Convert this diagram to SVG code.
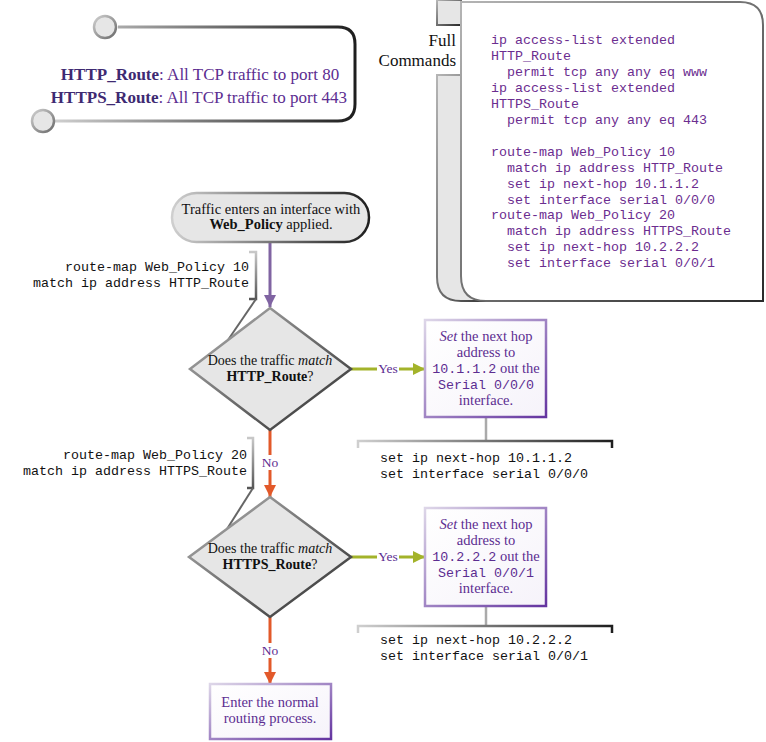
<svg xmlns="http://www.w3.org/2000/svg" width="766" height="742" viewBox="0 0 766 742">
<style>
.serif{font-family:"Liberation Serif","Times New Roman",serif;}
.mono{font-family:"Liberation Mono","Courier New",monospace;font-size:13.33px;}
.pur{fill:#5c2d91;}
.code{fill:#6b2d8f;}
.blk{fill:#111;}
.nodeTxt{font-size:14.5px;}
.decTxt{font-size:14px;}
.lbl{font-size:13.5px;fill:#5c2d91;}
</style>
<defs>
<linearGradient id="gHoriz" x1="0" y1="0" x2="1" y2="0">
<stop offset="0" stop-color="#cfcfcf"/><stop offset="1" stop-color="#1e1e1e"/>
</linearGradient>
<linearGradient id="gDiag" x1="0" y1="0" x2="1" y2="1">
<stop offset="0" stop-color="#b5b5b5"/><stop offset="1" stop-color="#2a2a2a"/>
</linearGradient>
<linearGradient id="gCircle" x1="0" y1="0" x2="1" y2="1">
<stop offset="0" stop-color="#d0d0d0"/><stop offset="1" stop-color="#6a6a6a"/>
</linearGradient>
<linearGradient id="gBox" x1="0" y1="0" x2="1" y2="1">
<stop offset="0" stop-color="#ddd6e8"/><stop offset="1" stop-color="#6434a0"/>
</linearGradient>
<linearGradient id="gBoxFill" x1="0" y1="0" x2="1" y2="1">
<stop offset="0" stop-color="#ffffff"/><stop offset="1" stop-color="#f6f3fa"/>
</linearGradient>
<linearGradient id="gVert" x1="0" y1="0" x2="0" y2="1">
<stop offset="0" stop-color="#c8c8c8"/><stop offset="1" stop-color="#555"/>
</linearGradient>
<marker id="aPur" markerUnits="userSpaceOnUse" markerWidth="14" markerHeight="14" refX="12" refY="6" orient="auto">
<path d="M0,0 L12,6 L0,12 Z" fill="#8064a2"/>
</marker>
<marker id="aGrn" markerUnits="userSpaceOnUse" markerWidth="14" markerHeight="14" refX="12" refY="6" orient="auto">
<path d="M0,0 L12,6 L0,12 Z" fill="#a3b32a"/>
</marker>
<marker id="aOrg" markerUnits="userSpaceOnUse" markerWidth="14" markerHeight="14" refX="12" refY="6" orient="auto">
<path d="M0,0 L12,6 L0,12 Z" fill="#e2592a"/>
</marker>
</defs>
<rect width="766" height="742" fill="#fff"/>

<!-- Definition callout top-left -->
<g id="acl-summary">
<path d="M118,27 H338 Q355,27 355,44 V104 Q355,121 338,121 H55" fill="none" stroke="url(#gHoriz)" stroke-width="3"/>
<circle cx="105" cy="27" r="11" fill="#e6e6e6" stroke="url(#gCircle)" stroke-width="2.5"/>
<circle cx="43" cy="121" r="11" fill="#e6e6e6" stroke="url(#gCircle)" stroke-width="2.5"/>
<text class="serif" x="200" y="80" text-anchor="middle" font-size="17"><tspan font-weight="bold" fill="#3e2a72">HTTP_Route</tspan><tspan fill="#5c2d91">: All TCP traffic to port 80</tspan></text>
<text class="serif" x="199" y="103" text-anchor="middle" font-size="17"><tspan font-weight="bold" fill="#3e2a72">HTTPS_Route</tspan><tspan fill="#5c2d91">: All TCP traffic to port 443</tspan></text>
</g>

<!-- Full commands panel -->
<g id="full-commands">
<rect x="437" y="0" width="24" height="25" fill="#e6e6e6" stroke="url(#gDiag)" stroke-width="2"/>
<path d="M461,75 H437 V277 Q437,301 461,301 H495" fill="#e6e6e6" stroke="url(#gDiag)" stroke-width="2"/>
<path d="M461,2 H740 Q763,2 763,25 V301 H486 Q461,301 461,276 Z" fill="#fff" stroke="url(#gDiag)" stroke-width="2"/>
<text class="serif" x="456" y="46" text-anchor="end" font-size="17" fill="#111">Full</text>
<text class="serif" x="456" y="66" text-anchor="end" font-size="17" fill="#111">Commands</text>
<g class="mono code">
<text x="491" y="44">ip access-list extended</text>
<text x="491" y="60">HTTP_Route</text>
<text x="507" y="76">permit tcp any any eq www</text>
<text x="491" y="92">ip access-list extended</text>
<text x="491" y="108">HTTPS_Route</text>
<text x="507" y="124">permit tcp any any eq 443</text>
<text x="491" y="156">route-map Web_Policy 10</text>
<text x="507" y="172">match ip address HTTP_Route</text>
<text x="507" y="188">set ip next-hop 10.1.1.2</text>
<text x="507" y="204">set interface serial 0/0/0</text>
<text x="491" y="219">route-map Web_Policy 20</text>
<text x="507" y="235">match ip address HTTPS_Route</text>
<text x="507" y="251">set ip next-hop 10.2.2.2</text>
<text x="507" y="267">set interface serial 0/0/1</text>
</g>
</g>

<!-- Connectors -->
<g id="connectors" fill="none">
<line x1="270" y1="243" x2="270" y2="307" stroke="#8064a2" stroke-width="3" marker-end="url(#aPur)"/>
<line x1="351" y1="369" x2="425" y2="369" stroke="#a3b32a" stroke-width="3" marker-end="url(#aGrn)"/>
<line x1="270" y1="430" x2="270" y2="497" stroke="#e2592a" stroke-width="3" marker-end="url(#aOrg)"/>
<line x1="351" y1="557" x2="425" y2="557" stroke="#a3b32a" stroke-width="3" marker-end="url(#aGrn)"/>
<line x1="270" y1="617" x2="270" y2="684" stroke="#e2592a" stroke-width="3" marker-end="url(#aOrg)"/>
<rect x="377" y="361" width="22" height="15" fill="#fff"/>
<text class="serif lbl" x="388" y="373" text-anchor="middle">Yes</text>
<rect x="377" y="549" width="22" height="15" fill="#fff"/>
<text class="serif lbl" x="388" y="561" text-anchor="middle">Yes</text>
<rect x="260" y="455" width="20" height="15" fill="#fff"/>
<text class="serif lbl" x="270" y="467" text-anchor="middle">No</text>
<rect x="260" y="643" width="20" height="15" fill="#fff"/>
<text class="serif lbl" x="270" y="655" text-anchor="middle">No</text>
<!-- annotation leaders -->
<path d="M249,252 H256 V299 H249" stroke="url(#gVert)" stroke-width="2.5"/>
<line x1="256" y1="299" x2="228" y2="340" stroke="#666" stroke-width="2"/>
<path d="M247,438 H253 V488 H247" stroke="url(#gVert)" stroke-width="2.5"/>
<line x1="253" y1="488" x2="227" y2="529" stroke="#666" stroke-width="2"/>
<line x1="486" y1="417" x2="486" y2="441" stroke="#aaa" stroke-width="2.5"/>
<path d="M358,448 V441 H612 V448" stroke="url(#gHoriz)" stroke-width="2.5"/>
<line x1="486" y1="606" x2="486" y2="626" stroke="#aaa" stroke-width="2.5"/>
<path d="M358,633 V626 H612 V633" stroke="url(#gHoriz)" stroke-width="2.5"/>
</g>

<!-- Start -->
<g id="start">
<rect x="172" y="193" width="197" height="49" rx="24.5" fill="#e6e6e6" stroke="url(#gHoriz)" stroke-width="2.5"/>
<text class="serif nodeTxt blk" x="271" y="214" text-anchor="middle">Traffic enters an interface with</text>
<text class="serif nodeTxt blk" x="271" y="229" text-anchor="middle"><tspan font-weight="bold">Web_Policy</tspan> applied.</text>
</g>

<!-- Annotation 1 -->
<g id="note-rm10" class="mono blk">
<text x="249" y="271" text-anchor="end">route-map Web_Policy 10</text>
<text x="249" y="287" text-anchor="end">match ip address HTTP_Route</text>
</g>

<!-- Decision 1 -->
<g id="decision-http">
<polygon points="270,308 351,369 270,430 190,369" fill="#e6e6e6" stroke="url(#gDiag)" stroke-width="2.5"/>
<text class="serif decTxt blk" x="270" y="365" text-anchor="middle">Does the traffic <tspan font-style="italic">match</tspan></text>
<text class="serif decTxt blk" x="270" y="381" text-anchor="middle" font-weight="bold">HTTP_Route<tspan font-weight="normal">?</tspan></text>
</g>

<!-- Action 1 -->
<g id="set-hop-1">
<rect x="425" y="320" width="121" height="97" fill="url(#gBoxFill)" stroke="url(#gBox)" stroke-width="2.5"/>
<text class="serif nodeTxt pur" x="486" y="341" text-anchor="middle"><tspan font-style="italic">Set</tspan> the next hop</text>
<text class="serif nodeTxt pur" x="486" y="357" text-anchor="middle">address to</text>
<text class="serif nodeTxt pur" x="486" y="373" text-anchor="middle"><tspan class="mono" font-size="13">10.1.1.2</tspan> out the</text>
<text class="mono pur" x="486" y="389" text-anchor="middle" font-size="13">Serial 0/0/0</text>
<text class="serif nodeTxt pur" x="486" y="405" text-anchor="middle">interface.</text>
</g>
<g id="code-1" class="mono blk">
<text x="380" y="462">set ip next-hop 10.1.1.2</text>
<text x="380" y="478">set interface serial 0/0/0</text>
</g>

<!-- Annotation 2 -->
<g id="note-rm20" class="mono blk">
<text x="247" y="459" text-anchor="end">route-map Web_Policy 20</text>
<text x="247" y="475" text-anchor="end">match ip address HTTPS_Route</text>
</g>

<!-- Decision 2 -->
<g id="decision-https">
<polygon points="270,497 351,557 270,617 189,557" fill="#e6e6e6" stroke="url(#gDiag)" stroke-width="2.5"/>
<text class="serif decTxt blk" x="270" y="553" text-anchor="middle">Does the traffic <tspan font-style="italic">match</tspan></text>
<text class="serif decTxt blk" x="270" y="569" text-anchor="middle" font-weight="bold">HTTPS_Route<tspan font-weight="normal">?</tspan></text>
</g>

<!-- Action 2 -->
<g id="set-hop-2">
<rect x="425" y="508" width="121" height="98" fill="url(#gBoxFill)" stroke="url(#gBox)" stroke-width="2.5"/>
<text class="serif nodeTxt pur" x="486" y="529" text-anchor="middle"><tspan font-style="italic">Set</tspan> the next hop</text>
<text class="serif nodeTxt pur" x="486" y="545" text-anchor="middle">address to</text>
<text class="serif nodeTxt pur" x="486" y="561" text-anchor="middle"><tspan class="mono" font-size="13">10.2.2.2</tspan> out the</text>
<text class="mono pur" x="486" y="577" text-anchor="middle" font-size="13">Serial 0/0/1</text>
<text class="serif nodeTxt pur" x="486" y="593" text-anchor="middle">interface.</text>
</g>
<g id="code-2" class="mono blk">
<text x="380" y="644">set ip next-hop 10.2.2.2</text>
<text x="380" y="660">set interface serial 0/0/1</text>
</g>

<!-- End -->
<g id="normal-routing">
<rect x="210" y="684" width="121" height="55" fill="url(#gBoxFill)" stroke="url(#gBox)" stroke-width="2.5"/>
<text class="serif nodeTxt pur" x="270" y="707" text-anchor="middle">Enter the normal</text>
<text class="serif nodeTxt pur" x="270" y="723" text-anchor="middle">routing process.</text>
</g>
</svg>
